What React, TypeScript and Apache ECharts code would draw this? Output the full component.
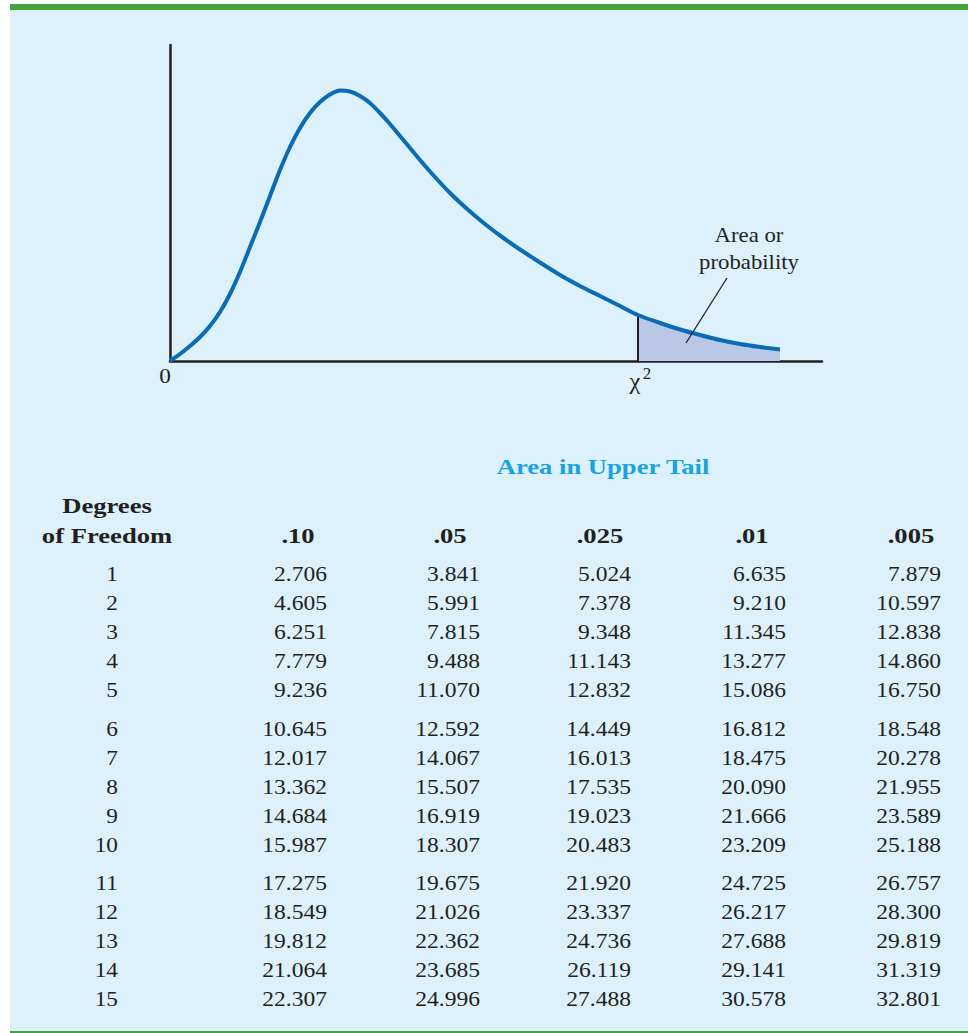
import React, { useEffect, useRef } from "react";
import * as echarts from "echarts";

// ---- curve (x in chi-square units, y density) ----
const curveX = [0, 0.25, 0.5, 0.75, 1.0, 1.25, 1.5, 1.75, 2.0, 2.25, 2.5, 2.75, 3.0, 3.25, 3.5, 3.75, 4.0, 4.25, 4.5, 4.75, 5.0, 5.25, 5.5, 5.75, 6.0, 6.25, 6.5, 6.75, 7.0, 7.25, 7.5, 7.75, 8.0, 8.25, 8.75, 9.25, 9.75, 10.25, 10.75, 11.25, 11.7, 12.25, 12.75, 13.25, 13.75, 14.25, 14.75, 15.25];
const curveY = [0, 0.0035, 0.0075, 0.012, 0.0175, 0.0245, 0.0335, 0.0445, 0.057, 0.0695, 0.0825, 0.0955, 0.107, 0.1165, 0.124, 0.1295, 0.13325, 0.13525, 0.13475, 0.1325, 0.129, 0.124, 0.1185, 0.1125, 0.1065, 0.1005, 0.09475, 0.08925, 0.084, 0.07925, 0.07475, 0.0705, 0.0665, 0.06275, 0.05575, 0.04925, 0.043, 0.0375, 0.0325, 0.0275, 0.023, 0.019, 0.01575, 0.013, 0.0105, 0.0085, 0.007, 0.00575];
const critX = 11.7;

// ---- table ----
const tableTitle = "Area in Upper Tail";
const dfHeader = ["Degrees", "of Freedom"];
const areaHeaders = [".10", ".05", ".025", ".01", ".005"];
const dfLabels = ["1", "2", "3", "4", "5", "6", "7", "8", "9", "10", "11", "12", "13", "14", "15"];
const col10 = ["2.706", "4.605", "6.251", "7.779", "9.236", "10.645", "12.017", "13.362", "14.684", "15.987", "17.275", "18.549", "19.812", "21.064", "22.307"];
const col05 = ["3.841", "5.991", "7.815", "9.488", "11.070", "12.592", "14.067", "15.507", "16.919", "18.307", "19.675", "21.026", "22.362", "23.685", "24.996"];
const col025 = ["5.024", "7.378", "9.348", "11.143", "12.832", "14.449", "16.013", "17.535", "19.023", "20.483", "21.920", "23.337", "24.736", "26.119", "27.488"];
const col01 = ["6.635", "9.210", "11.345", "13.277", "15.086", "16.812", "18.475", "20.090", "21.666", "23.209", "24.725", "26.217", "27.688", "29.141", "30.578"];
const col005 = ["7.879", "10.597", "12.838", "14.860", "16.750", "18.548", "20.278", "21.955", "23.589", "25.188", "26.757", "28.300", "29.819", "31.319", "32.801"];
const columns = [col10, col05, col025, col01, col005];

// ---- layout / style ----
const W = 968;
const H = 1033;
const INK = "#231f20";
const SERIF = "Liberation Serif";
const colRight = [327, 480, 631, 786, 941];
const headerCenter = [298, 450, 600, 752, 911];
const dfRight = 118;
const rowY0 = 574;
const rowStep = 29;
const groupGap = 9.5;

function buildGraphic() {
  const els: any[] = [];
  // panel
  els.push({ type: "rect", shape: { x: 10, y: 4, width: W - 10, height: H - 4 }, style: { fill: "#dcf1fc" }, z: -10 });
  els.push({ type: "rect", shape: { x: 10, y: 4, width: W - 10, height: 6 }, style: { fill: "#43a33f" }, z: -9 });
  els.push({ type: "rect", shape: { x: 10, y: 1031, width: W - 10, height: 2 }, style: { fill: "#43a33f" }, z: -9 });

  const txt = (text: string, x: number, y: number, opts: any = {}) => ({
    type: "text",
    x,
    y,
    scaleX: opts.scaleX ?? 1.06,
    z: 50,
    style: {
      text,
      fill: opts.fill ?? INK,
      fontFamily: SERIF,
      fontSize: opts.fontSize ?? 22,
      fontWeight: opts.fontWeight ?? "normal",
      align: opts.align ?? "center",
      verticalAlign: "middle",
    },
  });

  // chart annotations
  els.push(txt("0", 165, 376));
  els.push(txt("χ", 635, 381, { fontSize: 23 }));
  els.push(txt("2", 647, 374, { fontSize: 16 }));
  els.push(txt("Area or", 749, 235, { fontSize: 21.5 }));
  els.push(txt("probability", 749, 262, { fontSize: 21.5 }));
  els.push({ type: "line", z: 50, shape: { x1: 727, y1: 278, x2: 686, y2: 343 }, style: { stroke: INK, lineWidth: 1.3 } });

  // table headers
  els.push(txt(tableTitle, 603, 466, { fontWeight: "bold", fontSize: 22, scaleX: 1.21, fill: "#1aa3dd" }));
  els.push(txt(dfHeader[0], 107, 505, { fontWeight: "bold", fontSize: 22, scaleX: 1.21 }));
  els.push(txt(dfHeader[1], 107, 535, { fontWeight: "bold", fontSize: 22, scaleX: 1.21 }));
  areaHeaders.forEach((h, j) => {
    els.push(txt(h, headerCenter[j], 535, { fontWeight: "bold", fontSize: 22, scaleX: 1.21 }));
  });

  // table body
  dfLabels.forEach((d, i) => {
    const y = rowY0 + i * rowStep + Math.floor(i / 5) * groupGap;
    els.push(txt(d, dfRight, y, { align: "right" }));
    columns.forEach((col, j) => {
      els.push(txt(col[i], colRight[j], y, { align: "right", scaleX: 1.07 }));
    });
  });
  return els;
}

export default function App() {
  const ref = useRef<HTMLDivElement>(null);
  useEffect(() => {
    if (!ref.current) return;
    const chart = echarts.init(ref.current, null, { renderer: "svg" });
    const curve = curveX.map((x, i) => [x, curveY[i]]);
    const tail = curve.filter((p) => p[0] >= critX);
    const critY = curveY[curveX.indexOf(critX)];
    chart.setOption({
      animation: false,
      backgroundColor: "#ffffff",
      grid: { left: 170, right: W - 822, top: 45, bottom: H - 361 },
      xAxis: {
        type: "value",
        min: 0,
        max: 16.3,
        axisLine: { show: true, onZero: false, lineStyle: { color: INK, width: 2.5 } },
        axisTick: { show: false },
        axisLabel: { show: false },
        splitLine: { show: false },
      },
      yAxis: {
        type: "value",
        min: 0,
        max: 0.158,
        axisLine: { show: true, onZero: false, lineStyle: { color: INK, width: 2.5 } },
        axisTick: { show: false },
        axisLabel: { show: false },
        splitLine: { show: false },
      },
      graphic: buildGraphic(),
      series: [
        {
          type: "line",
          data: tail,
          smooth: 0.3,
          showSymbol: false,
          lineStyle: { width: 0 },
          areaStyle: { color: "#b9c8e6", opacity: 1 },
          z: 2,
        },
        {
          type: "line",
          data: [[critX, 0], [critX, critY]],
          showSymbol: false,
          lineStyle: { color: INK, width: 2 },
          z: 3,
        },
        {
          type: "line",
          data: curve,
          smooth: 0.3,
          showSymbol: false,
          lineStyle: { color: "#0a6bb6", width: 4 },
          z: 4,
        },
      ],
    });
    return () => chart.dispose();
  }, []);
  return <div ref={ref} style={{ position: "absolute", left: 0, top: 0, width: W, height: H }} />;
}
